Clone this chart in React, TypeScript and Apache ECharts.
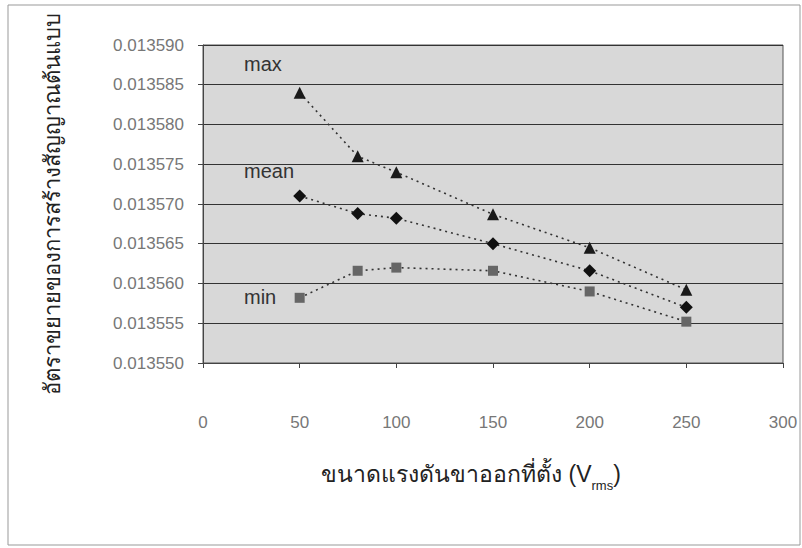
import React, { useEffect, useRef } from "react";
import * as echarts from "echarts";

const xValues = [50, 80, 100, 150, 200, 250];
const maxValues = [0.013584, 0.013576, 0.013574, 0.0135687, 0.0135645, 0.0135592];
const meanValues = [0.013571, 0.0135688, 0.0135682, 0.013565, 0.0135616, 0.013557];
const minValues = [0.0135582, 0.0135616, 0.013562, 0.0135616, 0.013559, 0.0135552];
const seriesNames = ["max", "mean", "min"];
const xTitle = "ขนาดแรงดันขาออกที่ตั้ง (V{sub|rms})";
const yTitle = "อัตราขยายของการสร้างสัญญาณต้นแบบ";

export default function App() {
  const ref = useRef<HTMLDivElement>(null);
  useEffect(() => {
    document.body.style.margin = "0";
    const chart = echarts.init(ref.current!, null, { renderer: "svg" });
    const font = "'Liberation Sans', Arial, sans-serif";
    const mk = (vals: number[]) => xValues.map((x, i) => [x, vals[i]]);
    const lineStyle = { color: "#333", width: 1.6, type: [2, 4] as any };
    chart.setOption({
      animation: false,
      backgroundColor: "#ffffff",
      grid: {
        left: 203,
        right: 19,
        top: 45,
        bottom: 185,
        show: true,
        backgroundColor: "#d8d8d8",
        borderColor: "#555",
        borderWidth: 1,
      },
      xAxis: {
        type: "value",
        min: 0,
        max: 300,
        interval: 50,
        name: xTitle,
        nameLocation: "middle",
        nameGap: 92,
        nameTextStyle: {
          fontSize: 23,
          color: "#222",
          fontFamily: font,
          padding: [0, 44, 0, 0],
          rich: { sub: { fontSize: 13, color: "#222", padding: [24, 0, 0, 0], fontFamily: font } },
        },
        axisLine: { show: true, lineStyle: { color: "#444" } },
        axisTick: { show: true, length: 5, lineStyle: { color: "#444" } },
        axisLabel: { margin: 51, fontSize: 17, color: "#777", fontFamily: font },
        splitLine: { show: false },
      },
      yAxis: {
        type: "value",
        min: 0.01355,
        max: 0.01359,
        interval: 0.000005,
        name: yTitle,
        nameLocation: "middle",
        nameGap: 140,
        nameTextStyle: { fontSize: 22, color: "#222", fontFamily: font },
        axisLine: { show: true, lineStyle: { color: "#444" } },
        axisTick: { show: true, length: 5, lineStyle: { color: "#444" } },
        axisLabel: {
          fontSize: 17,
          color: "#777",
          fontFamily: font,
          margin: 19,
          formatter: (v: number) => v.toFixed(6),
        },
        splitLine: { show: true, lineStyle: { color: "#333", width: 1 } },
      },
      graphic: [
        {
          type: "rect",
          shape: { x: 8, y: 5, width: 792, height: 540 },
          style: { fill: "none", stroke: "#999", lineWidth: 1 },
          z: -1,
        },
        { type: "text", x: 244, y: 54, style: { text: seriesNames[0], fontSize: 20, fill: "#333", fontFamily: font } },
        { type: "text", x: 244, y: 161, style: { text: seriesNames[1], fontSize: 20, fill: "#333", fontFamily: font } },
        { type: "text", x: 244, y: 287, style: { text: seriesNames[2], fontSize: 20, fill: "#333", fontFamily: font } },
      ],
      series: [
        {
          name: seriesNames[0],
          type: "line",
          data: mk(maxValues),
          symbol: "triangle",
          symbolSize: 12,
          itemStyle: { color: "#1a1a1a" },
          lineStyle,
        },
        {
          name: seriesNames[1],
          type: "line",
          data: mk(meanValues),
          symbol: "diamond",
          symbolSize: 13,
          itemStyle: { color: "#111" },
          lineStyle,
        },
        {
          name: seriesNames[2],
          type: "line",
          data: mk(minValues),
          symbol: "rect",
          symbolSize: 10,
          itemStyle: { color: "#666" },
          lineStyle,
        },
      ],
    });
    return () => chart.dispose();
  }, []);
  return <div ref={ref} style={{ width: 802, height: 548 }} />;
}
